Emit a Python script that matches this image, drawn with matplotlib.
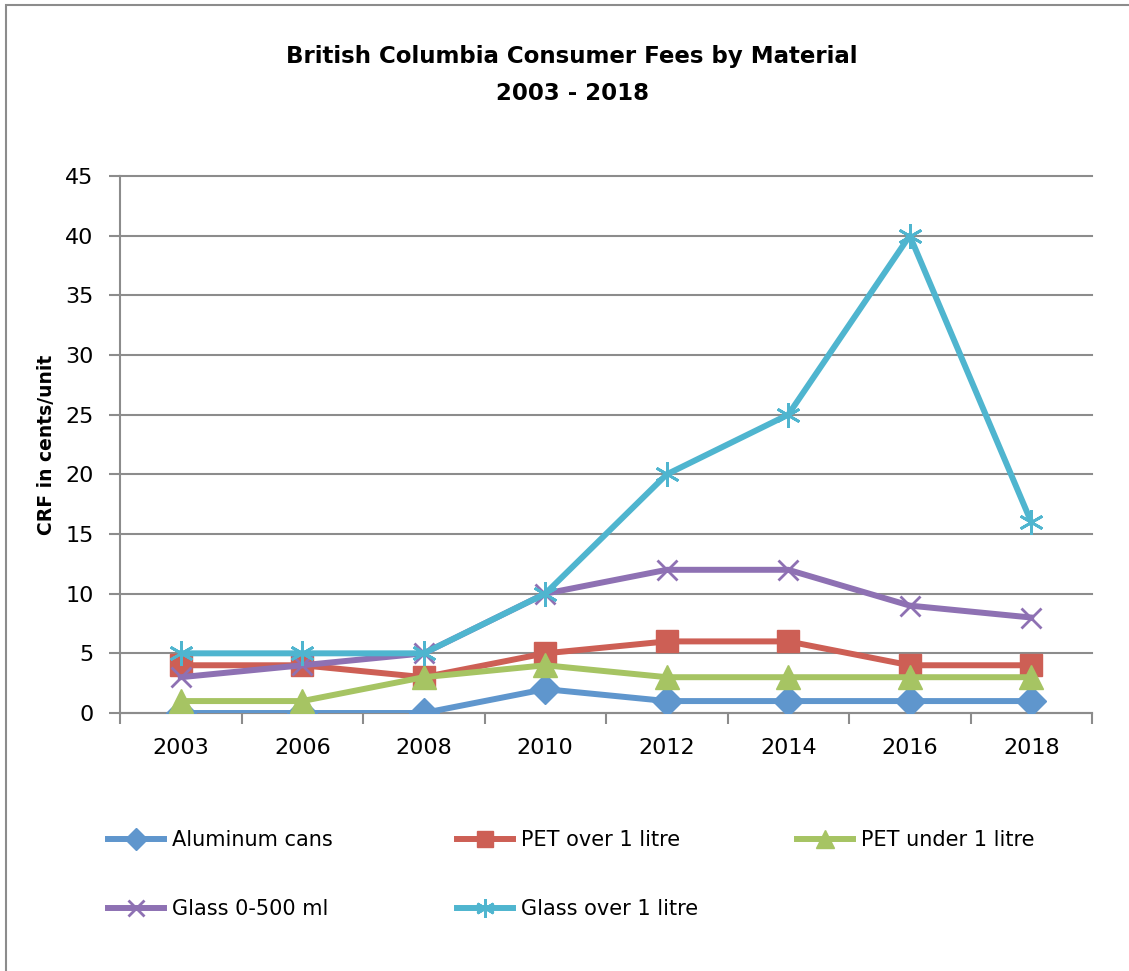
import matplotlib.pyplot as plt
from matplotlib.lines import Line2D
from matplotlib.patches import Rectangle

plt.rcParams['font.family'] = ['DejaVu Sans']

years = ["2003", "2006", "2008", "2010", "2012", "2014", "2016", "2018"]
aluminum_cans = [0, 0, 0, 2, 1, 1, 1, 1]
pet_over_1l = [4, 4, 3, 5, 6, 6, 4, 4]
pet_under_1l = [1, 1, 3, 4, 3, 3, 3, 3]
glass_0_500ml = [3, 4, 5, 10, 12, 12, 9, 8]
glass_over_1l = [5, 5, 5, 10, 20, 25, 40, 16]

series = [
    ("Aluminum cans", aluminum_cans, "#5F96CD", "D", 15),
    ("PET over 1 litre", pet_over_1l, "#CD5F55", "s", 16),
    ("PET under 1 litre", pet_under_1l, "#A6C463", "^", 17),
    ("Glass 0-500 ml", glass_0_500ml, "#8E71B3", "x", 15),
    ("Glass over 1 litre", glass_over_1l, "#4FB5CF", (6, 2, 0), 18),
]

W, H = 1129, 971
fig = plt.figure(figsize=(W / 100, H / 100), dpi=100)
ax = fig.add_axes([120 / W, 1 - 713 / H, (1092 - 120) / W, (713 - 176) / H])

x = list(range(len(years)))
handles = []
for name, vals, color, marker, ms in series:
    thin = marker == "x" or isinstance(marker, tuple)
    line, = ax.plot(x, vals, color=color, lw=4.3, marker=marker, ms=ms,
                    mec=color, mew=2.0 if thin else 1, zorder=3, label=name)
    handles.append(line)

ax.set_xlim(-0.5, len(years) - 0.5)
ax.set_ylim(0, 45)
ax.set_yticks(range(0, 46, 5))
ax.set_xticks([i - 0.5 for i in range(len(years) + 1)])
ax.set_xticklabels([])
ax.set_xticks(x, minor=True)
ax.set_xticklabels(years, minor=True)
ax.tick_params(axis='x', which='major', length=8, width=1.5, color="#8c8c8c", direction='out')
ax.tick_params(axis='x', which='minor', length=0, pad=18, labelsize=16)
ax.tick_params(axis='y', length=8, width=1.5, color="#8c8c8c", pad=11, labelsize=16)

ax.grid(axis='y', color="#8c8c8c", lw=1.5, zorder=0)
for gl in ax.get_ygridlines():
    gl.set_clip_on(False)
for side in ("top", "right"):
    ax.spines[side].set_visible(False)
for side in ("left", "bottom"):
    ax.spines[side].set_color("#8c8c8c")
    ax.spines[side].set_linewidth(1.5)

ax.set_ylabel("CRF in cents/unit", fontsize=13.5, fontweight='bold')
ax.yaxis.set_label_coords(-0.066, 0.5)

fig.text(572 / W, 1 - 75 / H, "British Columbia Consumer Fees by Material\n2003 - 2018",
         ha='center', va='center', fontsize=16.5, fontweight='bold', linespacing=1.8)

# legend entries laid out one by one, Excel-style
legend_pos = [(108, 840), (457, 840), (797, 840), (108, 909), (457, 909)]
for h, (px, py) in zip(handles, legend_pos):
    proxy = Line2D([], [], color=h.get_color(), lw=4.3, marker=h.get_marker(),
                   ms=h.get_markersize() * 0.75, mec=h.get_color(), mew=h.get_markeredgewidth())
    fig.legend(handles=[proxy], labels=[h.get_label()], loc='center left',
               bbox_to_anchor=(px / W, 1 - py / H), frameon=False, fontsize=15,
               handlelength=2.7, handletextpad=0.35, borderpad=0, borderaxespad=0)

fig.patches.append(Rectangle((6 / W, -0.05), 1.1, 1.05 - 5 / H, transform=fig.transFigure,
                             fill=False, edgecolor="#8c8c8c", lw=1.5))

fig.savefig("out.png", dpi=100, facecolor="white")
